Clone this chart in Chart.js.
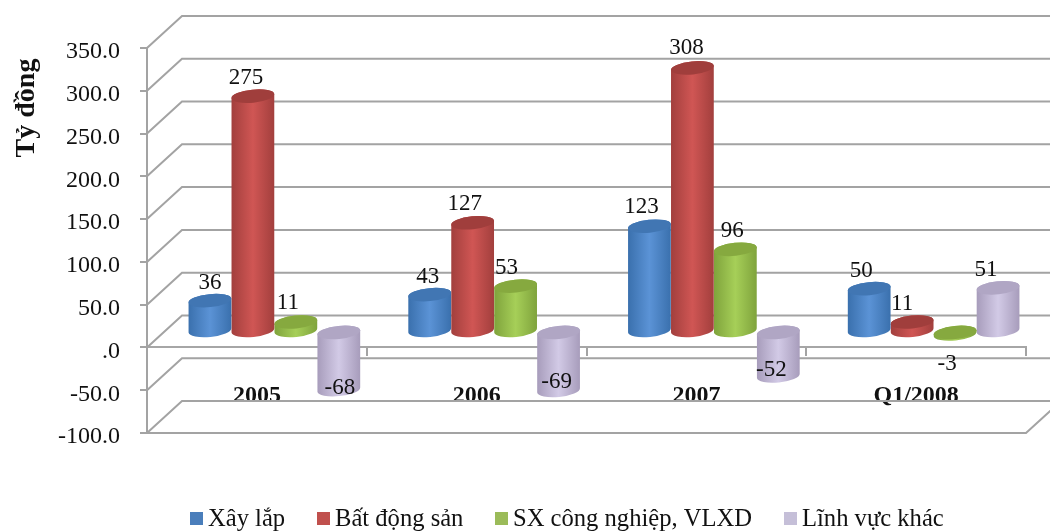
<!DOCTYPE html>
<html>
<head>
<meta charset="utf-8">
<title>Tỷ đồng</title>
<script src="https://cdn.jsdelivr.net/npm/chart.js@4/dist/chart.umd.min.js"></script>
<style>
  html, body { margin: 0; padding: 0; background: #fff; }
  canvas { display: block; }
</style>
</head>
<body>
<canvas id="chart" width="1050" height="531"></canvas>
<script>
// Data
const categories = ['2005', '2006', '2007', 'Q1/2008'];
const xayLap = [36, 43, 123, 50];
const batDongSan = [275, 127, 308, 11];
const sxCongNghiep = [11, 53, 96, -3];
const linhVucKhac = [-68, -69, -52, 51];
const seriesNames = ['Xây lắp', 'Bất động sản', 'SX công nghiệp, VLXD', 'Lĩnh vực khác'];
const yAxisTitle = 'Tỷ đồng';

// Cylinder shading: edge, middle, top cap, legend key
const shades = [
    { edge: '#3a70ad', mid: '#5b93d6', cap: '#4176b3', key: '#4a7ebb' },
    { edge: '#a23f3d', mid: '#d05654', cap: '#a03e3c', key: '#c0504d' },
    { edge: '#7fa33c', mid: '#a6cf58', cap: '#86a93f', key: '#9bbb59' },
    { edge: '#a79cbb', mid: '#d2cae6', cap: '#b0a6c4', key: '#c5bfd8' }
];

// Nudges for the data labels, [dx, dy] per series and category
const labelNudge = [
    [[0, -18], [-2, -18], [-8, -19], [-8, -18]],
    [[-7, -18], [-8, -19], [-6, -20], [-10, -18]],
    [[-8, -19], [-9, -18], [-3, -18], [-8, 30]],
    [[1, -2], [-2, -9], [-7, -6], [-12, -18]]
];

// Legend key left edges
const legendX = [190, 317, 495, 784];

// Depth of the 3D box, and how far the bars sit inside it
const DEPTH_X = 35, DEPTH_Y = -32;
const BAR_DX = 17.5, BAR_DY = -16;
const GRID = '#a3a3a3';
const SERIF = '"Liberation Serif", serif';

// Back wall, side wall and floor
const wallsPlugin = {
    id: 'walls',
    beforeDatasetsDraw(chart) {
        const { ctx, chartArea: a, scales: { y } } = chart;
        ctx.save();
        ctx.strokeStyle = GRID;
        ctx.lineWidth = 2;
        y.ticks.forEach(t => {
            const py = y.getPixelForValue(t.value);
            ctx.beginPath();
            ctx.moveTo(a.left, py);
            ctx.lineTo(a.left + DEPTH_X, py + DEPTH_Y);
            ctx.lineTo(a.right + DEPTH_X, py + DEPTH_Y);
            ctx.stroke();
        });
        // floor front edge
        ctx.beginPath();
        ctx.moveTo(a.left, a.bottom);
        ctx.lineTo(a.right, a.bottom);
        ctx.lineTo(a.right + DEPTH_X, a.bottom + DEPTH_Y);
        ctx.stroke();
        ctx.restore();
    }
};

// Bars are drawn as cylinders from the bar elements the controller laid out
const cylinderPlugin = {
    id: 'cylinders',
    beforeDatasetDraw(chart, args) {
        const { ctx } = chart;
        const shade = shades[args.index];
        args.meta.data.forEach(bar => {
            const { x, y, base, width } = bar.getProps(['x', 'y', 'base', 'width'], true);
            const cx = x + BAR_DX;
            const top = Math.min(y, base) + BAR_DY;
            const bottom = Math.max(y, base) + BAR_DY;
            const rx = width / 2, ry = 6.5, tilt = -0.1;
            const g = ctx.createLinearGradient(cx - rx, 0, cx + rx, 0);
            g.addColorStop(0, shade.edge);
            g.addColorStop(0.5, shade.mid);
            g.addColorStop(1, shade.edge);
            ctx.save();
            ctx.beginPath();
            ctx.ellipse(cx, top, rx, ry, tilt, Math.PI, 0);
            ctx.ellipse(cx, bottom, rx, ry, tilt, 0, Math.PI);
            ctx.closePath();
            ctx.fillStyle = g;
            ctx.fill();
            ctx.beginPath();
            ctx.ellipse(cx, top, rx, ry, tilt, 0, Math.PI * 2);
            ctx.fillStyle = shade.cap;
            ctx.fill();
            ctx.restore();
        });
        return false;
    }
};

// Data labels, axis title and legend
const textPlugin = {
    id: 'texts',
    afterDraw(chart) {
        const { ctx } = chart;
        ctx.save();
        ctx.fillStyle = '#111';
        ctx.textAlign = 'center';
        ctx.textBaseline = 'middle';
        ctx.font = '23px ' + SERIF;
        chart.data.datasets.forEach((ds, i) => {
            chart.getDatasetMeta(i).data.forEach((bar, j) => {
                const [dx, dy] = labelNudge[i][j];
                ctx.fillText(String(ds.data[j]), bar.x + BAR_DX + dx, bar.y + BAR_DY + dy);
            });
        });

        ctx.save();
        ctx.translate(27, 108);
        ctx.rotate(-Math.PI / 2);
        ctx.font = 'bold 28px ' + SERIF;
        ctx.fillText(yAxisTitle, 0, 0);
        ctx.restore();

        ctx.textAlign = 'left';
        ctx.font = '24.6px ' + SERIF;
        chart.data.datasets.forEach((ds, i) => {
            ctx.fillStyle = shades[i].key;
            ctx.fillRect(legendX[i], 512, 13, 13);
            ctx.fillStyle = '#111';
            ctx.fillText(ds.label, legendX[i] + 18, 520);
        });
        ctx.restore();
    }
};

const chart = new Chart(document.getElementById('chart'), {
    type: 'bar',
    data: {
        labels: categories,
        datasets: [
            { label: seriesNames[0], data: xayLap },
            { label: seriesNames[1], data: batDongSan },
            { label: seriesNames[2], data: sxCongNghiep },
            { label: seriesNames[3], data: linhVucKhac }
        ]
    },
    options: {
        responsive: false,
        animation: false,
        events: [],
        layout: { padding: { left: 0, top: 48, right: 24, bottom: 98 } },
        datasets: { bar: { barPercentage: 1, categoryPercentage: 0.782 } },
        plugins: { legend: { display: false }, tooltip: { enabled: false } },
        scales: {
            x: {
                position: { y: 0 },
                z: 1,
                border: { color: 'rgba(150,150,150,0.85)', width: 2 },
                grid: { drawOnChartArea: false, color: GRID, lineWidth: 2, tickLength: 8 },
                ticks: {
                    padding: 26,
                    color: '#111',
                    font: { family: SERIF, size: 24, weight: 'bold' }
                }
            },
            y: {
                min: -100,
                max: 350,
                afterFit(scale) { scale.width = 147; },
                border: { color: GRID, width: 2 },
                grid: { drawOnChartArea: false, color: GRID, lineWidth: 2, tickLength: 7 },
                ticks: {
                    stepSize: 50,
                    padding: 20,
                    labelOffset: 4,
                    color: '#111',
                    font: { family: SERIF, size: 24 },
                    callback: v => v === 0 ? '.0' : v.toFixed(1)
                }
            }
        }
    },
    plugins: [wallsPlugin, cylinderPlugin, textPlugin]
});
</script>
</body>
</html>
